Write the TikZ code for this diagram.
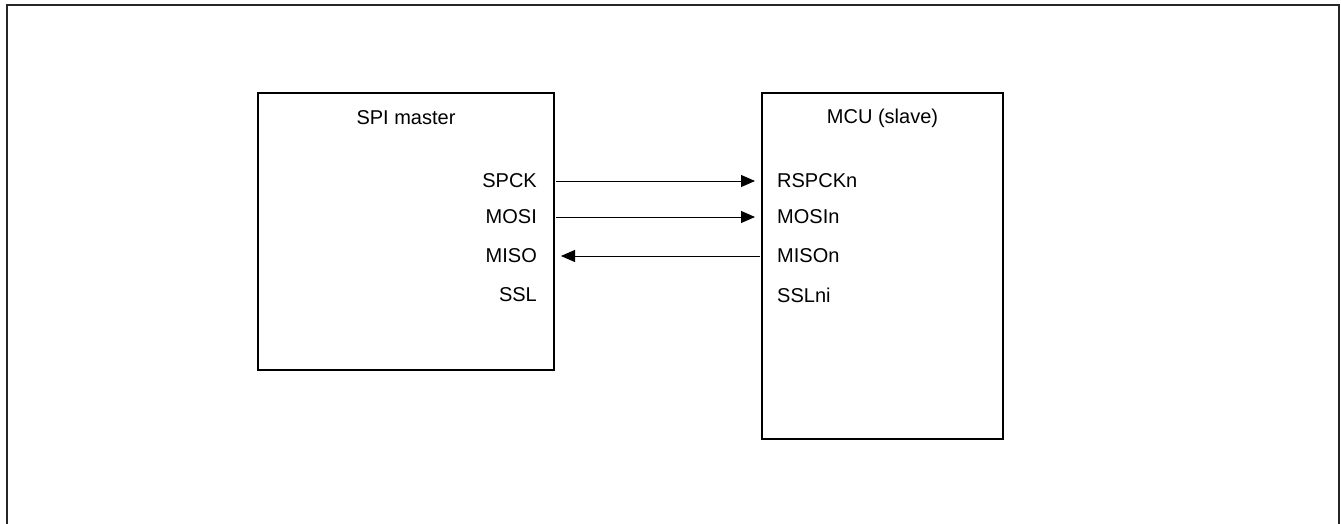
\documentclass[tikz,border=0pt]{standalone}
\usepackage{fontspec}
\setmainfont{Liberation Sans}
\usetikzlibrary{arrows.meta,calc}
\begin{document}
\begin{tikzpicture}[x=1pt,y=-1pt,
  blk/.style={draw,line width=2pt,rectangle,inner sep=0pt},
  lbl/.style={inner sep=0pt,font=\fontsize{20}{24}\selectfont},
  sig/.style={line width=1pt,-{Triangle[length=14pt,width=12pt]}}]
\useasboundingbox (0,0) rectangle (1341,524);
\clip (0,0) rectangle (1341,524);
\draw[line width=2pt,draw=black!85] (7,5) rectangle (1339,560);
\node[blk,minimum width=296pt,minimum height=277pt] (master) at (406,231.5) {};
\node[blk,minimum width=241pt,minimum height=346pt] (slave) at (882.5,266) {};
\node[lbl] (mt) at (406,118) {SPI master};
\node[lbl] (st) at (882.5,118) {MCU (slave)};
\node[lbl,anchor=east] (spck) at (537,181) {SPCK};
\node[lbl,anchor=east] (mosi) at (537,217) {MOSI};
\node[lbl,anchor=east] (miso) at (537,256) {MISO};
\node[lbl,anchor=east] (ssl) at (537,295) {SSL};
\node[lbl,anchor=west] (rspck) at (777,181) {RSPCKn};
\node[lbl,anchor=west] (mosin) at (777,217) {MOSIn};
\node[lbl,anchor=west] (mison) at (777,256) {MISOn};
\node[lbl,anchor=west] (sslni) at (777,295) {SSLni};
\draw[sig] ([xshift=1pt]master.east |- spck.center) -- ([xshift=-6pt]slave.west |- rspck.center);
\draw[sig] ([xshift=1pt]master.east |- mosi.center) -- ([xshift=-6pt]slave.west |- mosin.center);
\draw[sig] ([xshift=-1pt]slave.west |- mison.center) -- ([xshift=6pt]master.east |- miso.center);
\end{tikzpicture}
\end{document}
